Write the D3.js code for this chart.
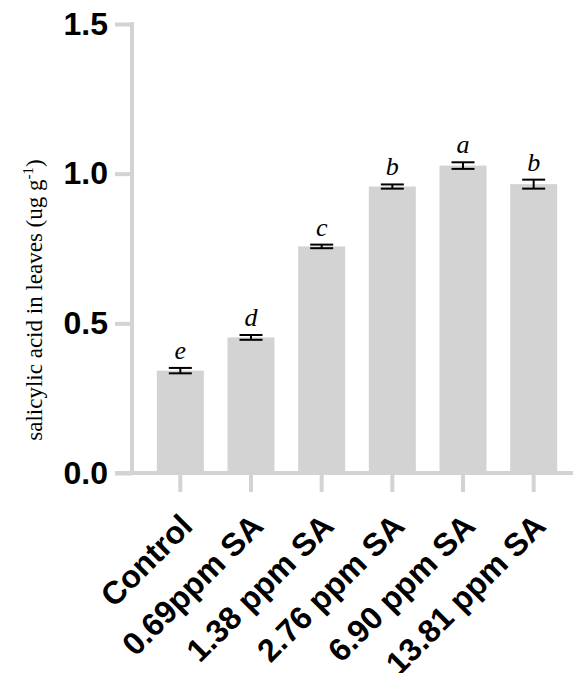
<!DOCTYPE html>
<html>
<head>
<meta charset="utf-8">
<script src="https://cdn.jsdelivr.net/npm/d3@7"></script>
<style>
  body { margin: 0; background: #fff; }
  svg { display: block; }
</style>
</head>
<body>
<svg id="chart" width="573" height="673"></svg>
<script>
const categories = ["Control", "0.69ppm SA", "1.38 ppm SA", "2.76 ppm SA", "6.90 ppm SA", "13.81 ppm SA"];
const means = [0.342, 0.453, 0.757, 0.957, 1.027, 0.965];
const errors = [0.009, 0.008, 0.006, 0.007, 0.011, 0.015];
const letters = ["e", "d", "c", "b", "a", "b"];
const yTicks = [0.0, 0.5, 1.0, 1.5];

const grey = "#d3d3d3";
const chart = d3.select("#chart");
const margin = {left: 132, top: 24, bottom: 473};

const y = d3.scaleLinear()
	.domain([0, 1.5])
	.range([margin.bottom, margin.top]);

const x = d3.scaleBand()
	.domain(categories)
	.range([145, 569])
	.paddingInner(0.335)
	.paddingOuter(0.1675);

// bars
chart.selectAll(".bar")
	.data(categories)
	.enter().append("rect")
	.attr("class", "bar")
	.attr("x", (d) => x(d))
	.attr("width", x.bandwidth())
	.attr("y", (d, i) => y(means[i]))
	.attr("height", (d, i) => y(0) - y(means[i]))
	.style("fill", grey);

// error bars
const capW = 23;
const err = chart.append("g").attr("class", "errors");
categories.forEach((c, i) => {
	let cx = x(c) + x.bandwidth() / 2;
	let top = y(means[i] + errors[i]);
	let bot = y(means[i] - errors[i]);
	err.append("line").attr("x1", cx).attr("x2", cx).attr("y1", top).attr("y2", bot);
	err.append("line").attr("x1", cx - capW / 2).attr("x2", cx + capW / 2).attr("y1", top).attr("y2", top);
	err.append("line").attr("x1", cx - capW / 2).attr("x2", cx + capW / 2).attr("y1", bot).attr("y2", bot);
});
err.selectAll("line").style("stroke", "#000").style("stroke-width", 2);

// significance letters
chart.selectAll(".letter")
	.data(categories)
	.enter().append("text")
	.attr("class", "letter")
	.attr("x", (d) => x(d) + x.bandwidth() / 2)
	.attr("y", (d, i) => y(means[i] + errors[i]) - 9)
	.style("text-anchor", "middle")
	.style("font-family", "'Liberation Serif', 'Times New Roman', serif")
	.style("font-style", "italic")
	.style("font-size", "26px")
	.text((d, i) => letters[i]);

// y axis
const yAxis = d3.axisLeft(y)
	.tickValues(yTicks)
	.tickFormat(d3.format(".1f"))
	.tickSize(17)
	.tickPadding(7);
const gy = chart.append("g")
	.attr("transform", `translate(${margin.left},0)`)
	.call(yAxis);
gy.select(".domain").remove();
gy.append("line")
	.attr("x1", 0).attr("x2", 0)
	.attr("y1", y(1.5) - 2).attr("y2", y(0))
	.style("stroke", grey).style("stroke-width", 4);
gy.selectAll(".tick line").style("stroke", grey).style("stroke-width", 4);
gy.selectAll(".tick text")
	.style("fill", "#000")
	.style("font-family", "'Liberation Sans', Arial, sans-serif")
	.style("font-weight", "bold")
	.style("font-size", "32px");

// x axis
const xAxis = d3.axisBottom(x).tickSize(19).tickFormat("");
const gx = chart.append("g")
	.attr("transform", `translate(0,${margin.bottom})`)
	.call(xAxis);
gx.select(".domain").remove();
gx.append("line")
	.attr("x1", 115).attr("x2", 573)
	.attr("y1", 0).attr("y2", 0)
	.style("stroke", grey).style("stroke-width", 4);
gx.selectAll(".tick line").style("stroke", grey).style("stroke-width", 4);
gx.selectAll(".tick")
	.append("text")
	.attr("transform", "translate(14,55) rotate(-45)")
	.style("text-anchor", "end")
	.style("fill", "#000")
	.style("font-family", "'Liberation Sans', Arial, sans-serif")
	.style("font-weight", "bold")
	.style("font-size", "32px")
	.text((d) => d);

// y axis title
const title = chart.append("text")
	.attr("transform", "translate(42,300) rotate(-90)")
	.style("text-anchor", "middle")
	.style("font-family", "'Liberation Serif', 'Times New Roman', serif")
	.style("font-size", "23px")
	.style("fill", "#000");
title.append("tspan").text("salicylic acid in leaves (ug g");
title.append("tspan").attr("dy", -9).style("font-size", "15px").text("-1");
title.append("tspan").attr("dy", 9).text(")");
</script>
</body>
</html>
